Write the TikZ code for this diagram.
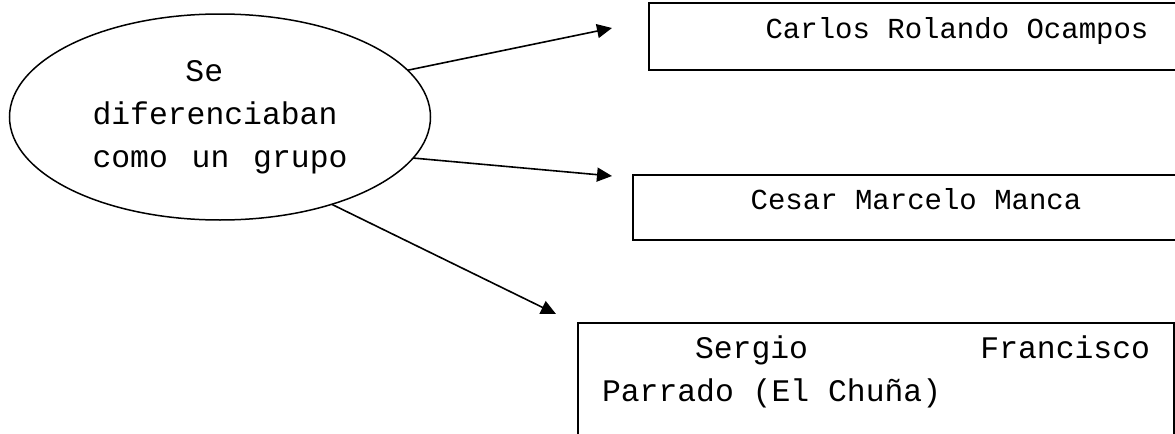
\documentclass[tikz,border=0pt]{standalone}
\usepackage{fontspec}
\usetikzlibrary{shapes.geometric, arrows.meta}
\newfontfamily\monofont[WordSpace={1,0,0}]{Liberation Mono}
\newcommand{\namefont}{\monofont\fontsize{14.5}{21.5}\selectfont}
\newcommand{\grupofont}{\monofont\fontsize{15.7}{21.5}\selectfont}
\newcommand{\fullspace}{\spaceskip=0pt\xspaceskip=0pt\relax}
\tikzstyle{idea} = [ellipse, draw=black, line width=0.75pt, minimum width=210.5pt, minimum height=103pt, inner sep=0pt, outer sep=0pt, text width=127.5pt, align=left, font=\grupofont]
\tikzstyle{person} = [rectangle, draw=black, line width=1pt, outer sep=0pt, font=\namefont]
\tikzstyle{arrow} = [line width=0.8pt,-{Triangle[length=7.5pt,width=7pt]}]

\begin{document}
\begin{tikzpicture}[x=0.5pt, y=-0.5pt]
    \useasboundingbox (0,0) rectangle (1175,434);
    \clip (0,0) rectangle (1175,434);

    \node (grupo) [idea] at (220,117) {\fullspace\hspace*{46.5pt}Se\\diferenciaban\\como\hfill un\hfill grupo};
    \node (carlos) [person, minimum width=308pt, minimum height=33.5pt, text height=10pt, text depth=8pt] at (957,36.5) {Carlos Rolando Ocampos};
    \node (cesar) [person, minimum width=283pt, minimum height=32.5pt, text height=10pt, text depth=8pt] at (916,207.5) {Cesar Marcelo Manca};
    \node (sergio) [person, anchor=north west, text width=274pt, inner xsep=12pt, inner ysep=6.5pt, align=left, font=\grupofont] at (578,323) {\fullspace\hspace*{46.5pt}Sergio\hfill Francisco\\Parrado (El Chuña)\\ \mbox{}};

    \coordinate (tipcarlos) at (612,28);
    \coordinate (tipcesar) at (612,176);
    \coordinate (tipsergio) at (556,314);

    \draw [arrow] (grupo.14) -- (tipcarlos);
    \draw [arrow] (grupo.-12) -- (tipcesar);
    \draw [arrow] (grupo.-38) -- (tipsergio);

\end{tikzpicture}
\end{document}
